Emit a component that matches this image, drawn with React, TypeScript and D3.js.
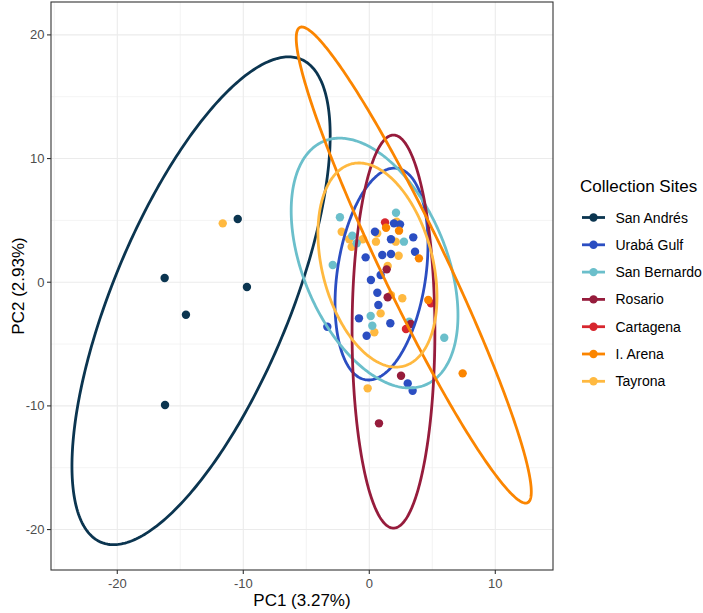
import React from "react";
import * as d3 from "d3";

const sites = ["San Andrés", "Urabá Gulf", "San Bernardo", "Rosario", "Cartagena", "I. Arena", "Tayrona"];
const siteColors = ["#0B3550", "#2B4EC2", "#6BBFCB", "#961C3C", "#D7262E", "#FB8500", "#FFB940"];

// points: site index, PC1, PC2
const pointSite = [
  0, 0, 0, 0, 0,
  6, 6, 6, 6, 6, 6, 6, 6, 6, 6, 6, 6, 6, 6, 6, 6,
  1, 1, 1, 1, 1, 1, 1, 1, 1, 1, 1, 1, 1, 1, 1, 1, 1, 1, 1,
  2, 2, 2, 2, 2, 2, 2, 2, 2, 2,
  3, 3, 3, 3, 3,
  4, 4, 4,
  5, 5, 5, 5, 5,
];
const pointPC1 = [
  -10.44, -16.24, -9.71, -14.55, -16.21,
  -11.63, -2.19, -1.59, -1.4, -0.52, 2.17, 0.63, 0.53, 2.1, 2.33, 1.46, 1.72, 2.62, 0.9, 0.4, -0.13,
  0.45, 1.96, 2.44, 1.72, 3.49, 3.63, 1.72, 1.03, -0.29, 0.9, 0.13, 0.64, 0.72, -3.33, -0.82, 1.67, -0.21, 3.05, 3.44,
  -2.33, 2.12, -1.35, -1.0, 2.75, -2.9, 0.11, 0.24, 3.17, 5.95,
  1.38, 1.46, 3.29, 2.52, 0.77,
  1.25, 4.9, 2.91,
  1.33, 2.36, 3.94, 4.68, 7.41,
];
const pointPC2 = [
  5.11, 0.34, -0.39, -2.63, -9.93,
  4.76, 4.08, 3.47, 2.87, 3.47, 4.89, 3.95, 3.28, 3.28, 2.14, 1.31, -1.04, -1.3, -2.52, -4.05, -8.58,
  4.08, 4.76, 4.68, 3.47, 3.63, 2.47, 2.28, 2.2, 2.01, 0.58, 0.18, -0.85, -1.84, -3.6, -2.92, -3.32, -4.33, -8.18, -8.77,
  5.25, 5.62, 3.76, 3.15, 3.28, 1.39, -2.73, -3.52, -3.19, -4.49,
  1.04, -1.22, -3.38, -7.56, -11.41,
  4.84, -1.71, -3.78,
  4.41, 4.17, 1.93, -1.44, -7.37,
];

// ellipse (covariance form) per site; Cartagena has none
const ellipseSite = [0, 1, 2, 3, 5, 6];
const ellipseCx = [-13.35, 0.97, 0.42, 1.92, 3.53, 0.65];
const ellipseCy = [-1.5, 0.66, 1.55, -3.99, 1.39, 1.39];
const ellipseSxx = [105, 13.6, 43.8, 10.8, 87, 22.3];
const ellipseSyy = [389, 73.4, 102, 252.5, 370.6, 68.1];
const ellipseSxy = [137, 8.8, -28, 0, -171, -12.1];

const xTicks = [-20, -10, 0, 10];
const yTicks = [-20, -10, 0, 10, 20];
const xMinor = [-25, -15, -5, 5];
const yMinor = [-15, -5, 5, 15];

const W = 703, H = 613;
const PL = 51, PR = 553, PT = 2, PB = 570;

export default function App() {
  const x = d3.scaleLinear().domain([-25.26, 14.58]).range([PL, PR]);
  const y = d3.scaleLinear().domain([-23.27, 22.66]).range([PB, PT]);
  const font = "'Liberation Sans', Arial, Helvetica, sans-serif";
  const line = d3.line<[number, number]>().x(d => x(d[0])).y(d => y(d[1])).curve(d3.curveLinearClosed);

  const ellipsePath = (i: number) => {
    const sxx = ellipseSxx[i], syy = ellipseSyy[i], sxy = ellipseSxy[i];
    const l11 = Math.sqrt(sxx);
    const l21 = sxy / l11;
    const l22 = Math.sqrt(Math.max(syy - l21 * l21, 0.0001));
    const pts: [number, number][] = d3.range(0, 360, 1).map(a => {
      const t = (a * Math.PI) / 180;
      const c = Math.cos(t), s = Math.sin(t);
      return [ellipseCx[i] + l11 * c, ellipseCy[i] + l21 * c + l22 * s];
    });
    return line(pts) || "";
  };

  const legendX = 580, legendY0 = 217.5, legendStep = 27.3;

  return (
    <svg width={W} height={H} style={{ position: "absolute", left: 0, top: 0, background: "#fff" }} fontFamily={font}>
      <rect x={0} y={0} width={W} height={H} fill="#fff" />
      <defs>
        <clipPath id="panel"><rect x={PL} y={PT} width={PR - PL} height={PB - PT} /></clipPath>
      </defs>
      {/* grid */}
      {xMinor.map(v => <line key={"xm" + v} x1={x(v)} x2={x(v)} y1={PT} y2={PB} stroke="#EBEBEB" strokeWidth={0.6} />)}
      {yMinor.map(v => <line key={"ym" + v} y1={y(v)} y2={y(v)} x1={PL} x2={PR} stroke="#EBEBEB" strokeWidth={0.6} />)}
      {xTicks.map(v => <line key={"xg" + v} x1={x(v)} x2={x(v)} y1={PT} y2={PB} stroke="#EBEBEB" strokeWidth={1.1} />)}
      {yTicks.map(v => <line key={"yg" + v} y1={y(v)} y2={y(v)} x1={PL} x2={PR} stroke="#EBEBEB" strokeWidth={1.1} />)}
      <g clipPath="url(#panel)">
        {pointSite.map((s, i) => (
          <circle key={"p" + i} cx={x(pointPC1[i])} cy={y(pointPC2[i])} r={4.2} fill={siteColors[s]} />
        ))}
        {ellipseSite.map((s, i) => (
          <path key={"e" + i} d={ellipsePath(i)} fill="none" stroke={siteColors[s]} strokeWidth={2.8} />
        ))}
      </g>
      <rect x={PL} y={PT} width={PR - PL} height={PB - PT} fill="none" stroke="#333333" strokeWidth={1.1} />
      {/* axes ticks */}
      {xTicks.map(v => (
        <g key={"xt" + v}>
          <line x1={x(v)} x2={x(v)} y1={PB} y2={PB + 4} stroke="#333333" strokeWidth={1.1} />
          <text x={x(v)} y={588} textAnchor="middle" fontSize={13} fill="#4D4D4D">{v}</text>
        </g>
      ))}
      {yTicks.map(v => (
        <g key={"yt" + v}>
          <line x1={PL - 4} x2={PL} y1={y(v)} y2={y(v)} stroke="#333333" strokeWidth={1.1} />
          <text x={44.5} y={y(v) + 4.6} textAnchor="end" fontSize={13} fill="#4D4D4D">{v}</text>
        </g>
      ))}
      <text x={(PL + PR) / 2} y={606} textAnchor="middle" fontSize={17} fill="#000">PC1 (3.27%)</text>
      <text transform={`translate(24,${(PT + PB) / 2}) rotate(-90)`} textAnchor="middle" fontSize={17} fill="#000">PC2 (2.93%)</text>
      {/* legend */}
      <text x={legendX} y={192} fontSize={17} fill="#000">Collection Sites</text>
      {sites.map((s, i) => {
        const ly = legendY0 + i * legendStep;
        return (
          <g key={"lg" + s}>
            <line x1={582} x2={605} y1={ly} y2={ly} stroke={siteColors[i]} strokeWidth={2.8} />
            <circle cx={593.5} cy={ly} r={4.2} fill={siteColors[i]} />
            <text x={615.5} y={ly + 5} fontSize={14} fill="#000">{s}</text>
          </g>
        );
      })}
    </svg>
  );
}
